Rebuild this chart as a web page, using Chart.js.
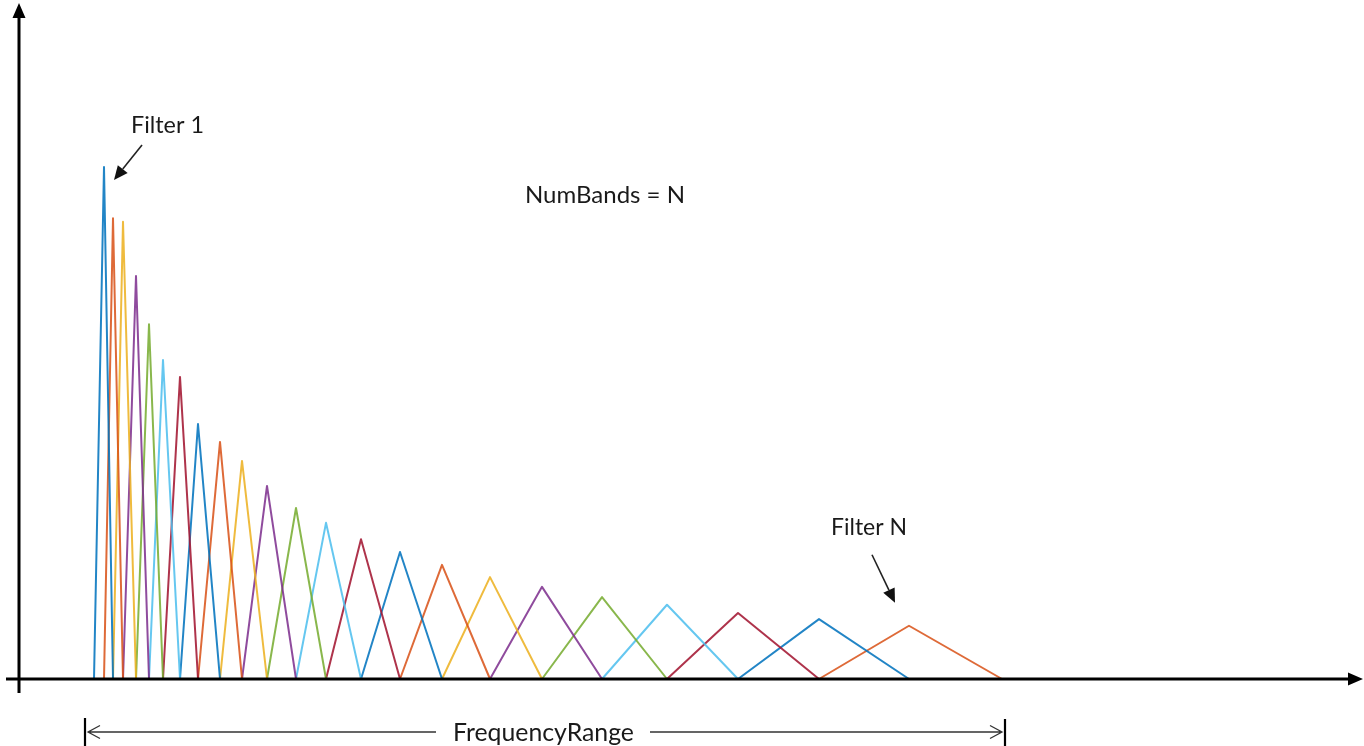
<!DOCTYPE html>
<html>
<head>
<meta charset="utf-8">
<script src="https://cdn.jsdelivr.net/npm/chart.js@4.4.0/dist/chart.umd.min.js"></script>
<style>
  html, body { margin: 0; padding: 0; background: #fff; }
  #wrap { width: 1364px; height: 746px; }
</style>
</head>
<body>
<div id="wrap"><canvas id="chart" width="1364" height="746"></canvas></div>
<script>
// band edges (arbitrary frequency units, origin at the y axis) - filter k spans edges[k]..edges[k+2], peak at edges[k+1]
const edges = [75, 85, 94, 104, 117, 130, 144, 161, 179, 201, 223, 248, 277, 307, 342, 381, 423, 471, 523, 583, 648, 719, 800, 890, 983];
// peak height of each filter, relative to filter 1
const peaks = [1.000, 0.900, 0.893, 0.787, 0.693, 0.623, 0.590, 0.498, 0.463, 0.426, 0.377, 0.334, 0.305, 0.273, 0.248, 0.223, 0.199, 0.180, 0.160, 0.145, 0.129, 0.117, 0.104];
const palette = ['#0072BD', '#D95319', '#EDB120', '#7E2F8E', '#77AC30', '#4DBEEE', '#A2142F'];
const labels = { first: 'Filter 1', last: 'Filter N', bands: 'NumBands = N', range: 'FrequencyRange' };

const FONT = 'Lato, "Open Sans", sans-serif';

const datasets = peaks.map((p, k) => ({
  label: 'Filter ' + (k + 1),
  data: [{ x: edges[k], y: 0 }, { x: edges[k + 1], y: p }, { x: edges[k + 2], y: 0 }],
  borderColor: palette[k % palette.length] + 'dd',
  borderWidth: 2,
  borderJoinStyle: 'round',
  pointRadius: 0,
  tension: 0,
  fill: false
}));

function fitText(ctx, text, x, y, width) {
  ctx.font = '24px ' + FONT;
  const w = ctx.measureText(text).width;
  const size = 24 * width / w;
  ctx.font = size.toFixed(2) + 'px ' + FONT;
  ctx.textBaseline = 'middle';
  ctx.textAlign = 'left';
  ctx.fillText(text, x, y);
}

function arrow(ctx, x1, y1, x2, y2, head) {
  const a = Math.atan2(y2 - y1, x2 - x1);
  const bx = x2 - head * Math.cos(a), by = y2 - head * Math.sin(a);
  ctx.beginPath();
  ctx.moveTo(x1, y1);
  ctx.lineTo(bx, by);
  ctx.stroke();
  ctx.beginPath();
  ctx.moveTo(x2, y2);
  ctx.lineTo(bx + head * 0.45 * Math.sin(a), by - head * 0.45 * Math.cos(a));
  ctx.lineTo(bx - head * 0.45 * Math.sin(a), by + head * 0.45 * Math.cos(a));
  ctx.closePath();
  ctx.fill();
}

const decor = {
  id: 'decor',
  afterDatasetsDraw(chart) {
    const ctx = chart.ctx;
    const xs = chart.scales.x, ys = chart.scales.y;
    const ox = xs.getPixelForValue(0), oy = ys.getPixelForValue(0);
    ctx.save();
    ctx.strokeStyle = '#000';
    ctx.fillStyle = '#000';
    ctx.lineWidth = 3;
    // axes with arrow heads
    ctx.beginPath();
    ctx.moveTo(ox, oy + 14);
    ctx.lineTo(ox, 16);
    ctx.moveTo(6, oy);
    ctx.lineTo(1350, oy);
    ctx.stroke();
    ctx.beginPath();
    ctx.moveTo(ox, 3); ctx.lineTo(ox - 6.5, 18); ctx.lineTo(ox + 6.5, 18); ctx.closePath();
    ctx.moveTo(1363, oy); ctx.lineTo(1348, oy - 6.5); ctx.lineTo(1348, oy + 6.5); ctx.closePath();
    ctx.fill();

    // frequency range bracket
    ctx.lineWidth = 2.2;
    ctx.beginPath();
    ctx.moveTo(85, 718); ctx.lineTo(85, 746);
    ctx.moveTo(1005, 719); ctx.lineTo(1005, 746);
    ctx.stroke();
    ctx.strokeStyle = '#333';
    ctx.lineWidth = 1.3;
    ctx.beginPath();
    ctx.moveTo(88, 732); ctx.lineTo(436, 732);
    ctx.moveTo(650, 732); ctx.lineTo(1002, 732);
    ctx.moveTo(100, 725.5); ctx.lineTo(88, 732); ctx.lineTo(100, 738.5);
    ctx.moveTo(990, 725.5); ctx.lineTo(1002, 732); ctx.lineTo(990, 738.5);
    ctx.stroke();

    // labels
    ctx.fillStyle = '#1a1a1a';
    fitText(ctx, labels.range, 453, 733, 181);
    fitText(ctx, labels.bands, 525, 195, 160);
    fitText(ctx, labels.first, 131, 125, 73);
    fitText(ctx, labels.last, 831, 528, 76);

    // pointer arrows to first and last filters
    const p1x = xs.getPixelForValue(edges[1]), p1y = ys.getPixelForValue(peaks[0]);
    const n = peaks.length;
    const pnx = xs.getPixelForValue(edges[n]), pny = ys.getPixelForValue(peaks[n - 1]);
    ctx.strokeStyle = '#222';
    ctx.fillStyle = '#111';
    ctx.lineWidth = 1.6;
    arrow(ctx, p1x + 38, p1y - 22, p1x + 10, p1y + 13, 14);
    arrow(ctx, pnx - 37, pny - 71, pnx - 14, pny - 23, 14);
    ctx.restore();
  }
};

const PX_PER_UNIT = 512, AXIS_ROW = 679, AXIS_COL = 19;

new Chart(document.getElementById('chart'), {
  type: 'line',
  data: { datasets },
  options: {
    responsive: false,
    animation: false,
    devicePixelRatio: 1,
    layout: { padding: 0 },
    plugins: { legend: { display: false }, tooltip: { enabled: false } },
    scales: {
      x: { type: 'linear', display: false, min: -AXIS_COL, max: 1364 - AXIS_COL },
      y: { type: 'linear', display: false, min: -(746 - AXIS_ROW) / PX_PER_UNIT, max: AXIS_ROW / PX_PER_UNIT }
    }
  },
  plugins: [decor]
});
</script>
</body>
</html>
